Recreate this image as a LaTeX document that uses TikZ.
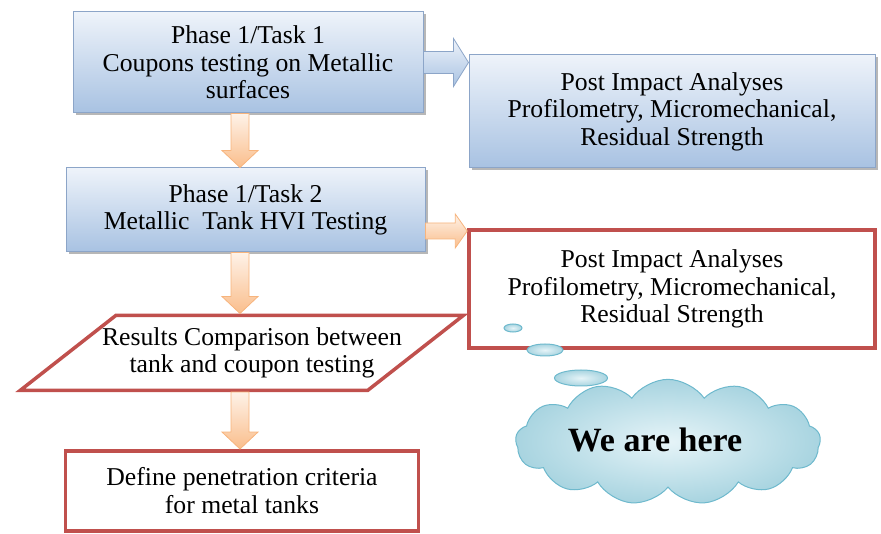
\documentclass[tikz,border=0pt]{standalone}
\usepackage{fontspec}
\setmainfont{Liberation Serif}
\usepackage{tikz}
\usetikzlibrary{positioning,calc,shapes.geometric,shapes.symbols,shadows}
\definecolor{boxtop}{RGB}{238,243,250}
\definecolor{boxbot}{RGB}{168,194,226}
\definecolor{boxline}{RGB}{140,165,200}
\definecolor{redline}{RGB}{192,80,77}
\definecolor{peachtop}{RGB}{254,242,232}
\definecolor{peachbot}{RGB}{250,190,140}
\definecolor{peachline}{RGB}{247,180,125}
\definecolor{cloudin}{RGB}{230,244,248}
\definecolor{cloudout}{RGB}{168,212,224}
\definecolor{cloudline}{RGB}{110,185,205}
\newcommand{\boxfont}{\fontsize{25.7pt}{27.5pt}\selectfont}
\newcommand{\downblock}[3][]{\path[#1] let \p1=(#2), \p2=(#3) in
	(\x1-9pt,\y1) -- (\x1-9pt,\y2+17pt) -- (\x1-18pt,\y2+17pt) -- (\x1,\y2)
	-- (\x1+18pt,\y2+17pt) -- (\x1+9pt,\y2+17pt) -- (\x1+9pt,\y1) -- cycle;}
\newcommand{\rightblock}[6][]{\path[#1] let \p1=(#2), \p2=(#3) in
	(\x1,\y1+#4) -- (\x2-#6,\y1+#4) -- (\x2-#6,\y1+#5) -- (\x2,\y1)
	-- (\x2-#6,\y1-#5) -- (\x2-#6,\y1-#4) -- (\x1,\y1-#4) -- cycle;}
\tikzset{blue box/.style={rectangle,draw=boxline,line width=1pt,top color=boxtop,bottom color=boxbot,align=center,font=\boxfont,inner sep=0pt,
		drop shadow={shadow xshift=2.5pt,shadow yshift=-2.5pt,fill=black!40,opacity=.7}},
	red box/.style={rectangle,draw=redline,line width=3.5pt,fill=white,align=center,font=\boxfont,inner sep=0pt},
	peach arrow/.style={draw=peachline,line width=.8pt,top color=peachtop,bottom color=peachbot},
	blue arrow/.style={draw=boxline,line width=.8pt,top color=boxtop,bottom color=boxbot},
	bubble/.style={ellipse,draw=cloudline,line width=1pt,inner color=cloudin,outer color=cloudout,inner sep=0pt},}
\begin{document}
\begin{tikzpicture}[x=1pt,y=1pt]
	\useasboundingbox (0,0) rectangle (881,-534);
	\coordinate (ax) at (240,0);

	\node[blue box,minimum width=350pt,minimum height=101pt] (task1) at (248,-62.5) {Phase 1/Task 1\\Coupons testing on Metallic\\surfaces};
	\node[blue box,minimum width=406pt,minimum height=113pt] (post1) at (672,-111.5) {Post Impact Analyses\\Profilometry, Micromechanical,\\Residual Strength};
	\node[blue box,minimum width=359pt,minimum height=84pt] (task2) [below = 54pt of task1,xshift=-2.5pt] {Phase 1/Task 2\\Metallic\ \ Tank HVI Testing};
	\node[red box,minimum width=406pt,minimum height=118pt] (post2) [below = 60pt of post1] {Post Impact Analyses\\Profilometry, Micromechanical,\\Residual Strength};
	\node[red box,trapezium,trapezium left angle=28,trapezium right angle=152,trapezium stretches body,inner xsep=-34pt,
		minimum height=75pt] (compare) [below = 61pt of task2,xshift=-3.5pt] {\kern20pt Results Comparison between\\\kern20pt tank and coupon testing};
	\node[red box,minimum width=353pt,minimum height=80pt] (criteria) [below = 57pt of compare] {Define penetration criteria\\for metal tanks};

	\node[bubble,minimum width=18pt,minimum height=8pt] (b1) at (513,-328) {};
	\node[bubble,minimum width=36pt,minimum height=12pt] (b2) at (545,-350) {};
	\node[bubble,minimum width=53pt,minimum height=16pt] (b3) at (581,-378) {};
	\node[cloud,cloud puffs=13,cloud puff arc=110,aspect=3.2,draw=cloudline,line width=1pt,inner color=cloudin,outer color=cloudout,
		minimum width=305pt,minimum height=95pt,font=\fontsize{34pt}{36pt}\selectfont\bfseries] (here) at (668,-442) {\raisebox{5pt}{We are here}\kern 26pt};

	\downblock[peach arrow]{task1.south -| ax}{task2.north -| ax}
	\downblock[peach arrow]{task2.south -| ax}{compare.north -| ax}
	\downblock[peach arrow]{compare.south -| ax}{criteria.north -| ax}
	\rightblock[blue arrow]{task1.east}{task1.east -| post1.west}{11pt}{24pt}{15pt}
	\rightblock[peach arrow]{$(task2.east)+(0,-21pt)$}{post2.west}{8pt}{17pt}{12pt}

\end{tikzpicture}
\end{document}
